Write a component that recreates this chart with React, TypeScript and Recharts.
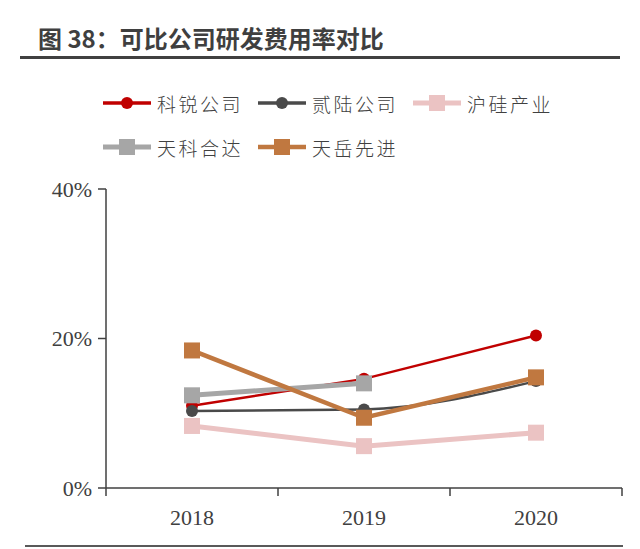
import React from 'react'
import { Line, LineChart, XAxis, YAxis } from 'recharts'

const years = ['2018', '2019', '2020']
const yTicks = [0, 20, 40]

const cree = [11.0, 14.6, 20.4]
const iivi = [10.3, 10.5, 14.3]
const nsig = [8.3, 5.6, 7.4]
const tkh = [12.4, 14.0, null]
const sicc = [18.4, 9.4, 14.8]

const series = [
  { key: 'cree', name: '科锐公司', color: '#c00000', values: cree, shape: 'circle', width: 2.5, curve: 'linear' },
  { key: 'iivi', name: '贰陆公司', color: '#4a4a4a', values: iivi, shape: 'circle', width: 2.5, curve: 'monotone' },
  { key: 'nsig', name: '沪硅产业', color: '#ebc3c3', values: nsig, shape: 'square', width: 5, curve: 'linear' },
  { key: 'tkh', name: '天科合达', color: '#a6a6a6', values: tkh, shape: 'square', width: 5, curve: 'linear' },
  { key: 'sicc', name: '天岳先进', color: '#c07840', values: sicc, shape: 'square', width: 4.5, curve: 'linear' },
]

const data = years.map((year, i) => {
  const row: any = { year }
  series.forEach(s => { row[s.key] = s.values[i] })
  return row
})

// half of one category slot, used for the edge padding and the boundary tick marks
const HALF = 86

const makeDot = (color: string, shape: string) => (props: any) => {
  const { cx, cy, index } = props
  if (cx == null || cy == null || props.value == null) return <g key={index} />
  if (shape === 'circle') return <circle key={index} cx={cx} cy={cy} r={6} fill={color} />
  return <rect key={index} x={cx - 8} y={cy - 8} width={16} height={16} fill={color} />
}

const LegendSample = ({ color, shape, width }: { color: string; shape: string; width: number }) => (
  <svg width={48} height={20} style={{ display: 'block' }}>
    <line x1={0} y1={10} x2={48} y2={10} stroke={color} strokeWidth={Math.max(width, 3.5)} />
    {shape === 'circle'
      ? <circle cx={24} cy={10} r={6} fill={color} />
      : <rect x={16} y={2} width={16} height={16} fill={color} />}
  </svg>
)

const tickStyle = { fontFamily: '"Liberation Serif", serif', fontSize: 22, fill: '#404040' }
const axisStroke = { stroke: '#404040', strokeWidth: 1.5 }

const YearTick = (props: any) => {
  const { x, y, payload, index, visibleTicksCount } = props
  const last = index === visibleTicksCount - 1
  return (
    <g>
      <line x1={x - HALF} y1={y} x2={x - HALF} y2={y + 8} stroke="#404040" strokeWidth={1.5} />
      {last && <line x1={x + HALF} y1={y} x2={x + HALF} y2={y + 8} stroke="#404040" strokeWidth={1.5} />}
      <text x={x} y={y} dy={37} textAnchor="middle" {...tickStyle}>{payload.value}</text>
    </g>
  )
}

export default function App() {
  return (
    <div style={{ position: 'absolute', left: 0, top: 0, width: 640, height: 549, background: '#fff' }}>
      <div style={{ position: 'absolute', left: 38, top: 22, fontSize: 24, fontWeight: 700, color: '#3f3f3f', fontFamily: '"Noto Sans CJK SC", sans-serif', lineHeight: '32px' }}>
        图 38：可比公司研发费用率对比
      </div>
      <div style={{ position: 'absolute', left: 20, top: 56, width: 600, height: 2.5, background: '#404040' }} />
      <div style={{ position: 'absolute', left: 25, top: 545, width: 598, height: 1.5, background: '#595959' }} />
      <div style={{ position: 'absolute', left: 103, top: 81, display: 'flex', flexWrap: 'wrap', width: 480 }}>
        {series.map(s => (
          <div key={s.key} style={{ display: 'flex', alignItems: 'center', width: 155, height: 44 }}>
            <LegendSample color={s.color} shape={s.shape} width={s.width} />
            <span style={{ marginLeft: 6, fontSize: 19, letterSpacing: 2.5, color: '#404040', fontFamily: '"Noto Sans CJK SC", sans-serif', fontWeight: 300 }}>
              {s.name}
            </span>
          </div>
        ))}
      </div>
      <LineChart width={640} height={549} data={data} margin={{ top: 189, right: 18, bottom: 0, left: 0 }} style={{ position: 'absolute', left: 0, top: 0 }}>
        <XAxis dataKey="year" height={61} tick={<YearTick />} axisLine={axisStroke} tickLine={false} tickSize={0} tickMargin={0} interval={0} padding={{ left: HALF, right: HALF }} />
        <YAxis width={106} domain={[0, 40]} ticks={yTicks} tickFormatter={(v: number) => `${v}%`} tick={tickStyle} tickSize={8} axisLine={axisStroke} tickLine={axisStroke} tickMargin={6} />
        {series.map(s => (
          <Line
            key={s.key}
            type={s.curve as any}
            dataKey={s.key}
            name={s.name}
            stroke={s.color}
            strokeWidth={s.width}
            dot={makeDot(s.color, s.shape)}
            activeDot={false}
            isAnimationActive={false}
          />
        ))}
      </LineChart>
    </div>
  )
}
